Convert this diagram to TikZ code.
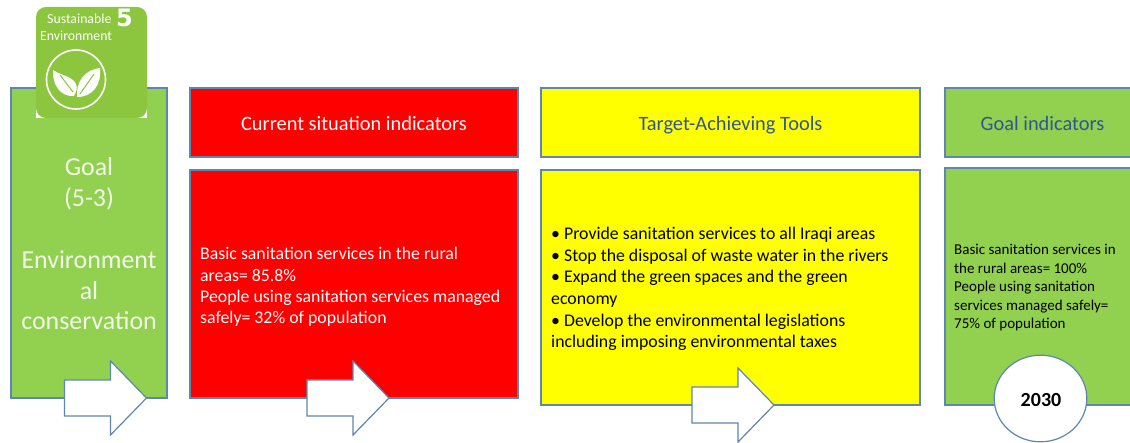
\documentclass[tikz,border=0pt]{standalone}
\usepackage{fontspec}
\setmainfont{Carlito}
\newfontfamily\heavy{DejaVu Sans}
\definecolor{boxline}{HTML}{5F86AE}
\definecolor{leafgreen}{HTML}{92D050}
\definecolor{icongreen}{HTML}{8CC63F}
\definecolor{headblue}{HTML}{2F5597}
\definecolor{pureyellow}{HTML}{FFFF00}
\definecolor{purered}{HTML}{FF0000}
\newcommand{\fs}[2]{\fontsize{#1}{#2}\selectfont}
\tikzset{
  x=1pt,y=-1pt,
  panel/.style={draw=boxline,line width=1.2pt},
  flow/.style={draw=boxline,line width=1.2pt,fill=white,line join=miter},
  bodytext/.style={anchor=west,align=left,inner sep=0pt,text=black},
  goaltext/.style={text=white!88!leafgreen,font=\fs{25.9}{30},inner sep=0pt,anchor=base},
  headtext/.style={font=\fs{20.4}{24},inner sep=0pt,anchor=base},
  pic arrow/.pic={\path[flow] (0,-18) -- (46,-18) -- (46,-37) -- (82,0) -- (46,37) -- (46,18) -- (0,18) -- cycle;}
}
\begin{document}
\begin{tikzpicture}
\useasboundingbox (0,0) rectangle (1130,443);
% panels
\path[panel,fill=leafgreen] (11,88) rectangle (167,398);
\path[panel,fill=purered] (190,88) rectangle (518,157);
\path[panel,fill=purered] (190,170) rectangle (518,398);
\path[panel,fill=pureyellow] (541,88) rectangle (920,157);
\path[panel,fill=pureyellow] (541,170) rectangle (920,405);
\path[panel,fill=leafgreen] (945,88) rectangle (1135,157);
\path[panel,fill=leafgreen] (945,168) rectangle (1135,405);
% icon
\fill[white] (36,90) rectangle (147,118);
\fill[icongreen,rounded corners=10pt] (36,7) rectangle (147,118);
\node[text=white,font=\fs{13.8}{16},inner sep=0pt,anchor=base west] (sust) at (47,24) {Sustainable};
\node[text=white,font=\fs{13.8}{16},inner sep=0pt,anchor=base west] (envi) at (40,41) {Environment};
\node[text=white,font=\heavy\bfseries\fs{24}{24},inner sep=0pt,anchor=base] (five) at (124.5,26.5) {5};
\draw[white,line width=1.6pt] (76,79.5) circle [radius=29.5];
\fill[white] (74,96) .. controls (60,97) and (52,84) .. (53,70) .. controls (62,76) and (72,76) .. (76,84) .. controls (78,88) and (76,92) .. (74,96) -- cycle;
\fill[white] (77,97) .. controls (76,82) and (84,70) .. (100,68) .. controls (102,84) and (93,97) .. (77,97) -- cycle;
\draw[icongreen,line width=1pt] (60,75) -- (73,92);
\draw[icongreen,line width=1pt] (80,94) -- (94,74);
% goal text
\node[goaltext] (goal) at (89,176) {Goal};
\node[goaltext] (num) at (89,207) {(5-3)};
\node[goaltext] (env) at (89,269) {Environment};
\node[goaltext] (al) at (89,300) {al};
\node[goaltext] (cons) at (89,330) {conservation};
% headers
\node[headtext,text=white] (h1) at (354,130.5) {Current situation indicators};
\node[headtext,text=headblue] (h2) at (730.5,130.5) {Target-Achieving Tools};
\node[headtext,text=headblue] (h3) at (1042.5,130.5) {Goal indicators};
% bodies
\node[bodytext,text=white,font=\fs{17.8}{21.3}] (t1) at (200,287) {Basic sanitation services in the rural\\areas= 85.8\%\\People using sanitation services managed\\safely= 32\% of population};
\node[bodytext,font=\fs{17.8}{21.6}] (t2) at (551,289) {• Provide sanitation services to all Iraqi areas\\• Stop the disposal of waste water in the rivers\\• Expand the green spaces and the green\\economy\\• Develop the environmental legislations\\including imposing environmental taxes};
\node[bodytext,font=\fs{15}{18.5}] (t3) at (954,288) {Basic sanitation services in\\the rural areas= 100\%\\People using sanitation\\services managed safely=\\75\% of population};
% arrows
\pic at (64.5,398) {pic arrow};
\pic at (307,398) {pic arrow};
\pic at (692,405) {pic arrow};
% circle
\draw[panel,fill=white] (1040.5,398.5) ellipse [x radius=46.3,y radius=43.3];
\node[font=\bfseries\fs{20}{24},inner sep=0pt] (yr) at (1041,400.5) {2030};
\end{tikzpicture}
\end{document}
